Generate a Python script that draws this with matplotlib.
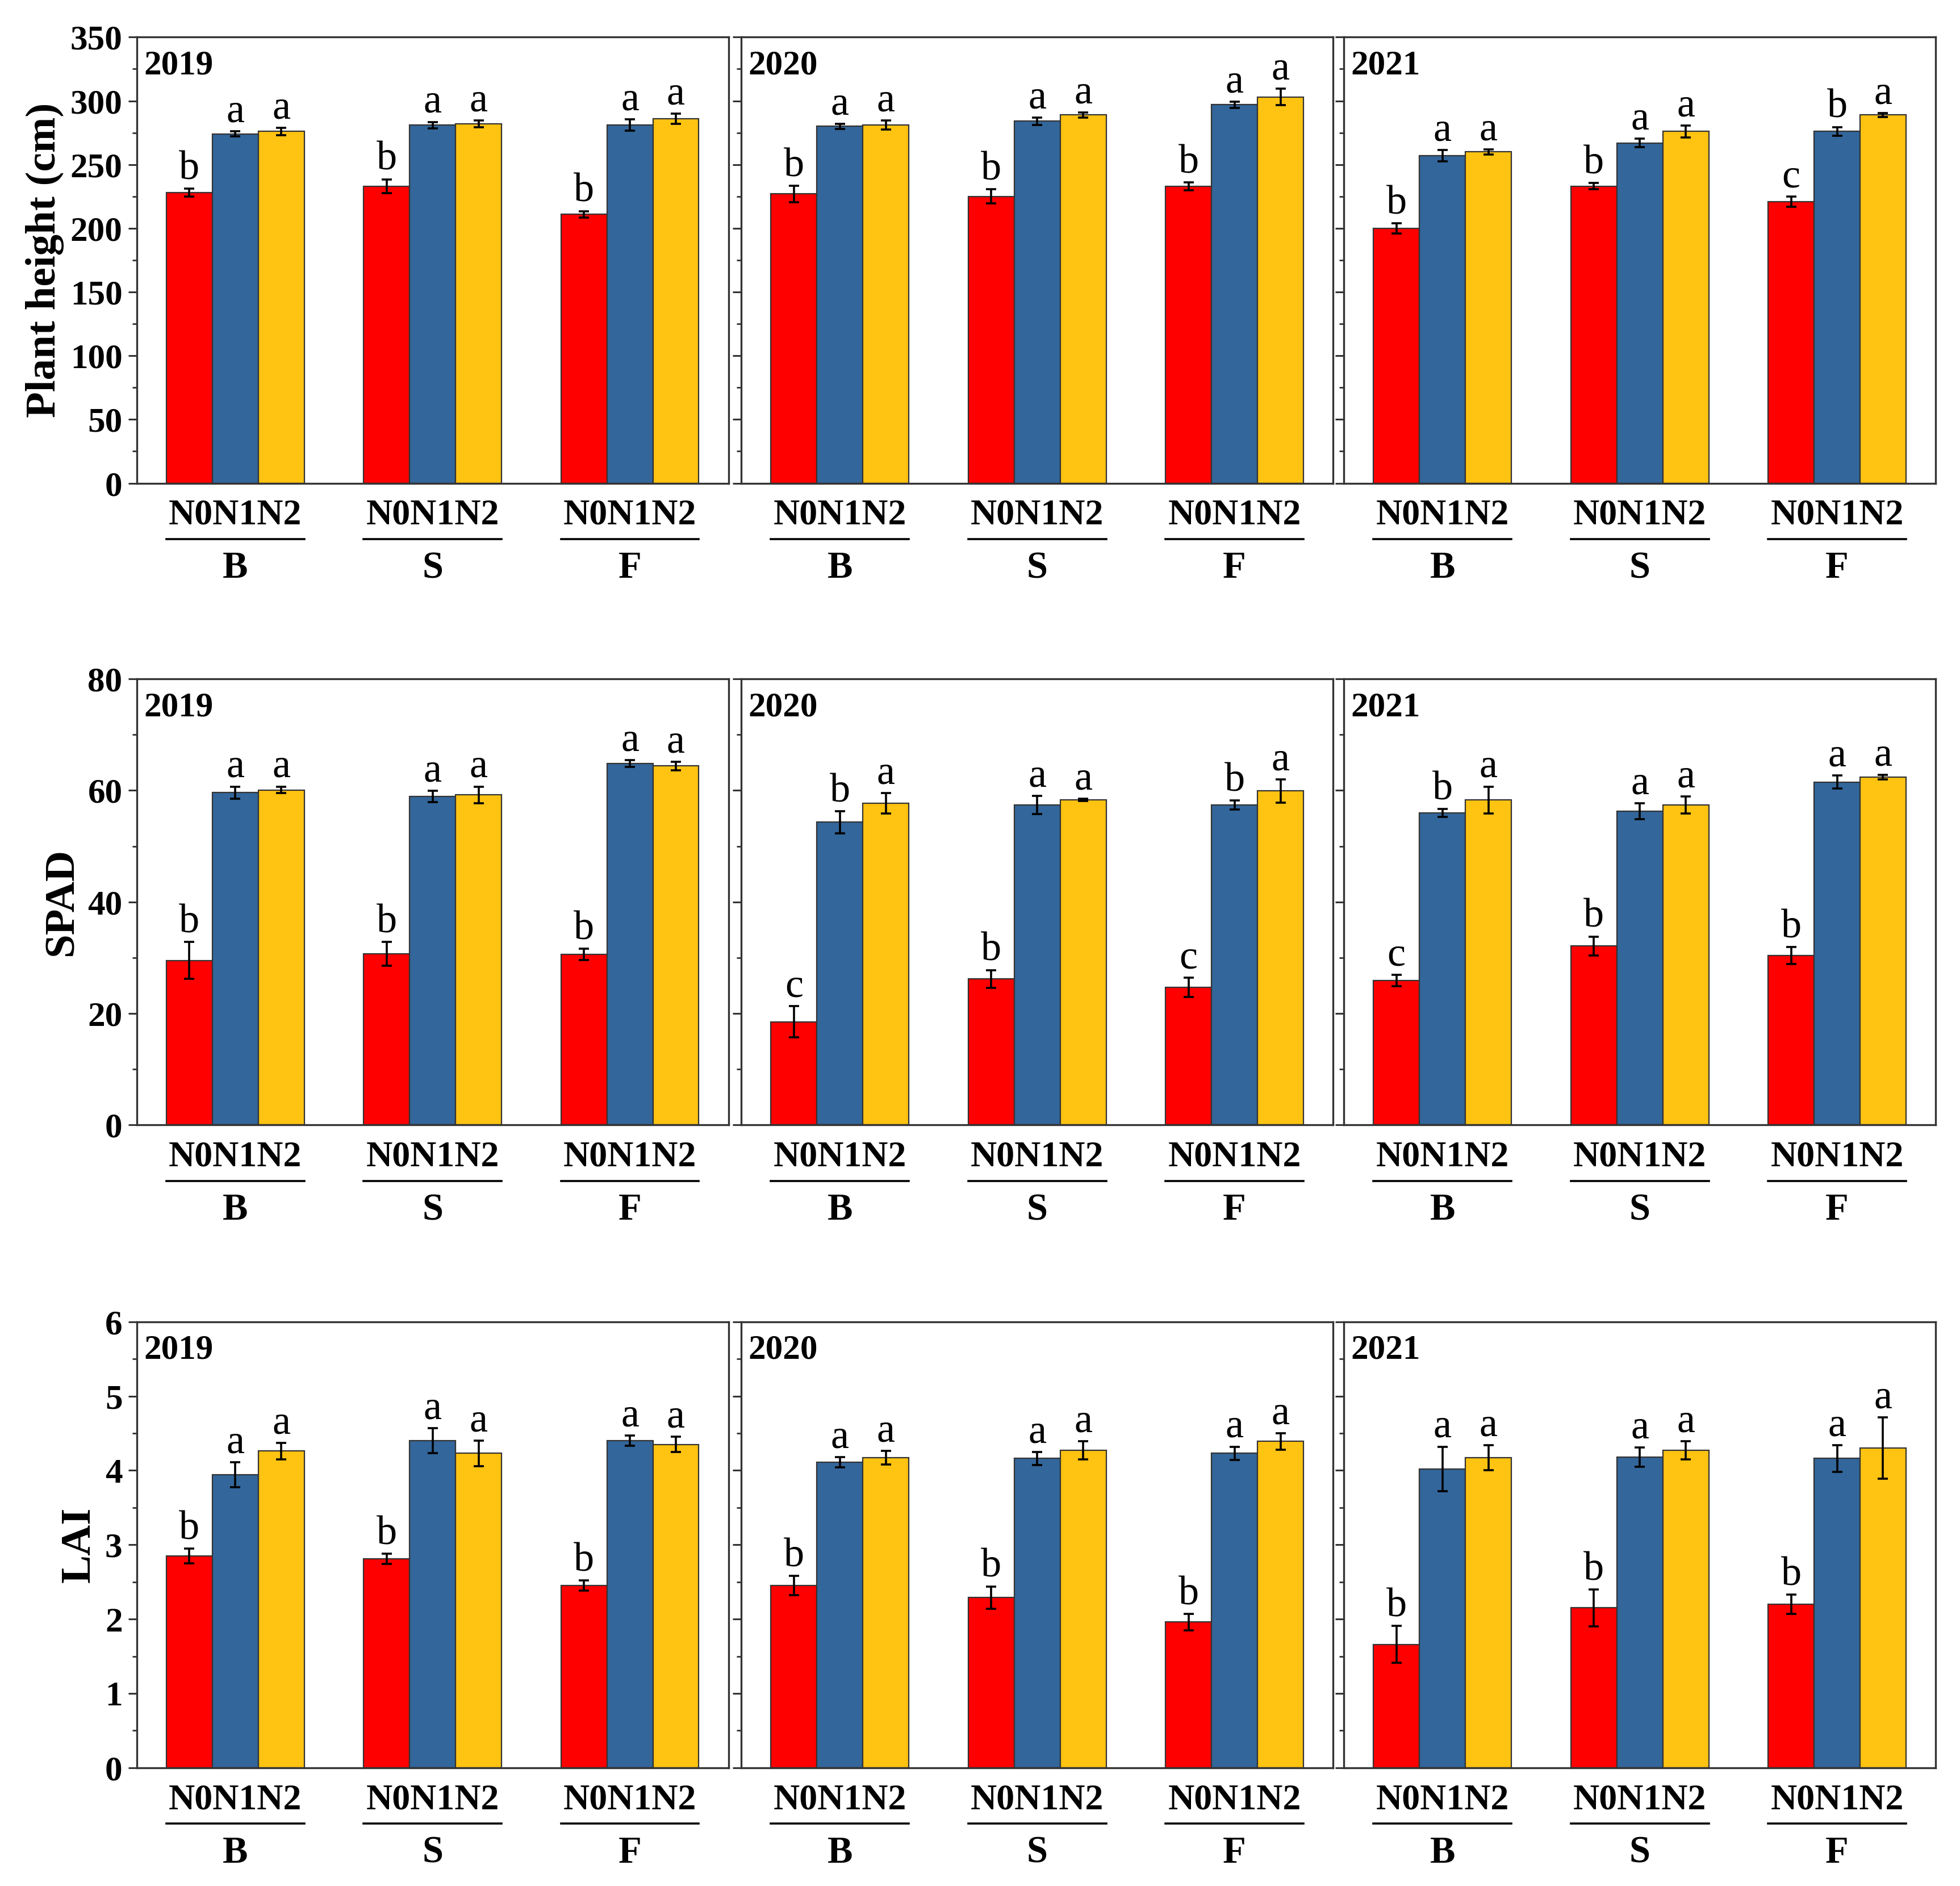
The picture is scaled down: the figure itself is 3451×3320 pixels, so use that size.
import numpy as np
import matplotlib
matplotlib.use('Agg')
import matplotlib.pyplot as plt
import matplotlib.transforms as mtransforms
from matplotlib.ticker import MultipleLocator, AutoMinorLocator

plt.rcParams['font.family'] = ['Liberation Serif', 'DejaVu Serif']

years = ['2019', '2020', '2021']
stages = ['B', 'S', 'F']
levels = ['N0', 'N1', 'N2']
colors = ['#FF0000', '#33669A', '#FFC312']

# values per year -> per stage (B, S, F) -> N0, N1, N2
height_mean = [
    [[228, 274, 276], [233, 281, 282], [211, 281, 286]],
    [[227, 280, 281], [225, 284, 289], [233, 297, 303]],
    [[200, 257, 260], [233, 267, 276], [221, 276, 289]],
]
height_err = [
    [[3, 2, 3], [5.5, 2.5, 2.5], [2.5, 4.5, 4]],
    [[6.5, 2, 3.5], [5.5, 3, 2], [3, 2.5, 6.5]],
    [[4, 4.5, 2], [2.5, 3.5, 4.5], [4, 3.5, 1.5]],
]
height_sig = [
    [['b', 'a', 'a'], ['b', 'a', 'a'], ['b', 'a', 'a']],
    [['b', 'a', 'a'], ['b', 'a', 'a'], ['b', 'a', 'a']],
    [['b', 'a', 'a'], ['b', 'a', 'a'], ['c', 'b', 'a']],
]

spad_mean = [
    [[29.5, 59.6, 60.1], [30.7, 58.9, 59.2], [30.6, 64.8, 64.4]],
    [[18.5, 54.3, 57.7], [26.2, 57.4, 58.3], [24.7, 57.4, 59.9]],
    [[25.9, 56.0, 58.3], [32.1, 56.3, 57.4], [30.4, 61.5, 62.4]],
]
spad_err = [
    [[3.3, 1.1, 0.6], [2.1, 1.0, 1.5], [1.05, 0.6, 0.75]],
    [[2.8, 2.0, 1.85], [1.6, 1.6, 0.2], [1.75, 0.8, 2.05]],
    [[1.0, 0.7, 2.4], [1.7, 1.4, 1.5], [1.5, 1.15, 0.4]],
]
spad_sig = [
    [['b', 'a', 'a'], ['b', 'a', 'a'], ['b', 'a', 'a']],
    [['c', 'b', 'a'], ['b', 'a', 'a'], ['c', 'b', 'a']],
    [['c', 'b', 'a'], ['b', 'a', 'a'], ['b', 'a', 'a']],
]

lai_mean = [
    [[2.85, 3.94, 4.26], [2.81, 4.40, 4.23], [2.45, 4.40, 4.35]],
    [[2.45, 4.11, 4.17], [2.29, 4.16, 4.27], [1.96, 4.23, 4.39]],
    [[1.66, 4.02, 4.17], [2.15, 4.18, 4.27], [2.20, 4.16, 4.30]],
]
lai_err = [
    [[0.10, 0.17, 0.11], [0.07, 0.17, 0.17], [0.07, 0.07, 0.10]],
    [[0.13, 0.07, 0.09], [0.15, 0.09, 0.12], [0.11, 0.09, 0.11]],
    [[0.25, 0.30, 0.17], [0.25, 0.13, 0.12], [0.13, 0.18, 0.41]],
]
lai_sig = [
    [['b', 'a', 'a'], ['b', 'a', 'a'], ['b', 'a', 'a']],
    [['b', 'a', 'a'], ['b', 'a', 'a'], ['b', 'a', 'a']],
    [['b', 'a', 'a'], ['b', 'a', 'a'], ['b', 'a', 'a']],
]

rows = [
    ('Plant height (cm)', height_mean, height_err, height_sig, 350, 50),
    ('SPAD', spad_mean, spad_err, spad_sig, 80, 20),
    ('LAI', lai_mean, lai_err, lai_sig, 6, 1),
]

fig = plt.figure(figsize=(17.255, 16.6), dpi=200)

lefts = [0.0697, 0.3782, 0.6856]
bottoms = [0.7438, 0.4035, 0.0627]
w_ax, h_ax = 0.302, 0.2365
bw = 0.233
spine_col = '#333333'

for r, (ylab, mean, err, sig, ymax, step) in enumerate(rows):
    for c, yr in enumerate(years):
        ax = fig.add_axes([lefts[c], bottoms[r], w_ax, h_ax])
        group_x = np.arange(1, 4)
        for k in range(3):
            vals = [mean[c][s][k] for s in range(3)]
            errs = [err[c][s][k] for s in range(3)]
            xs = group_x + (k - 1) * bw
            ax.bar(xs, vals, width=bw, color=colors[k], edgecolor=spine_col,
                   linewidth=0.8, zorder=2)
            ax.errorbar(xs, vals, yerr=errs, fmt='none', ecolor='black',
                        elinewidth=1.3, capsize=3.2, capthick=1.3, zorder=3)
            for s in range(3):
                ax.annotate(sig[c][s][k], (xs[s], vals[s] + errs[s]),
                            xytext=(0, 6), textcoords='offset points',
                            ha='center', va='baseline', fontsize=26)

        ax.set_xlim(0.5, 3.5)
        ax.set_ylim(0, ymax)
        ax.yaxis.set_major_locator(MultipleLocator(step))
        ax.yaxis.set_minor_locator(AutoMinorLocator(2))
        ax.set_xticks([])
        ax.tick_params(axis='y', which='major', direction='out', length=5.5,
                       width=1.1, color=spine_col, labelsize=22)
        ax.tick_params(axis='y', which='minor', direction='out', length=3,
                       width=1.0, color=spine_col)
        for lab in ax.get_yticklabels():
            lab.set_fontweight('bold')
        if c == 0:
            ax.set_ylabel(ylab, fontsize=27, fontweight='bold', labelpad=4)
        else:
            ax.tick_params(axis='y', labelleft=False)
        for sp in ax.spines.values():
            sp.set_color(spine_col)
            sp.set_linewidth(1.2)

        ax.text(0.012, 0.917, yr, transform=ax.transAxes, fontsize=22,
                fontweight='bold', ha='left', va='baseline')

        trans = mtransforms.blended_transform_factory(ax.transData, ax.transAxes)
        for s, st in enumerate(stages):
            gx = group_x[s]
            ax.text(gx, -0.092, ''.join(levels), transform=trans, fontsize=23,
                    fontweight='bold', ha='center', va='baseline')
            ax.plot([gx - 1.5 * bw, gx + 1.5 * bw], [-0.125, -0.125],
                    transform=trans, color='black', lw=1.3, clip_on=False)
            ax.text(gx, -0.2125, st, transform=trans, fontsize=24,
                    fontweight='bold', ha='center', va='baseline')

fig.savefig('out.png', dpi=200)
